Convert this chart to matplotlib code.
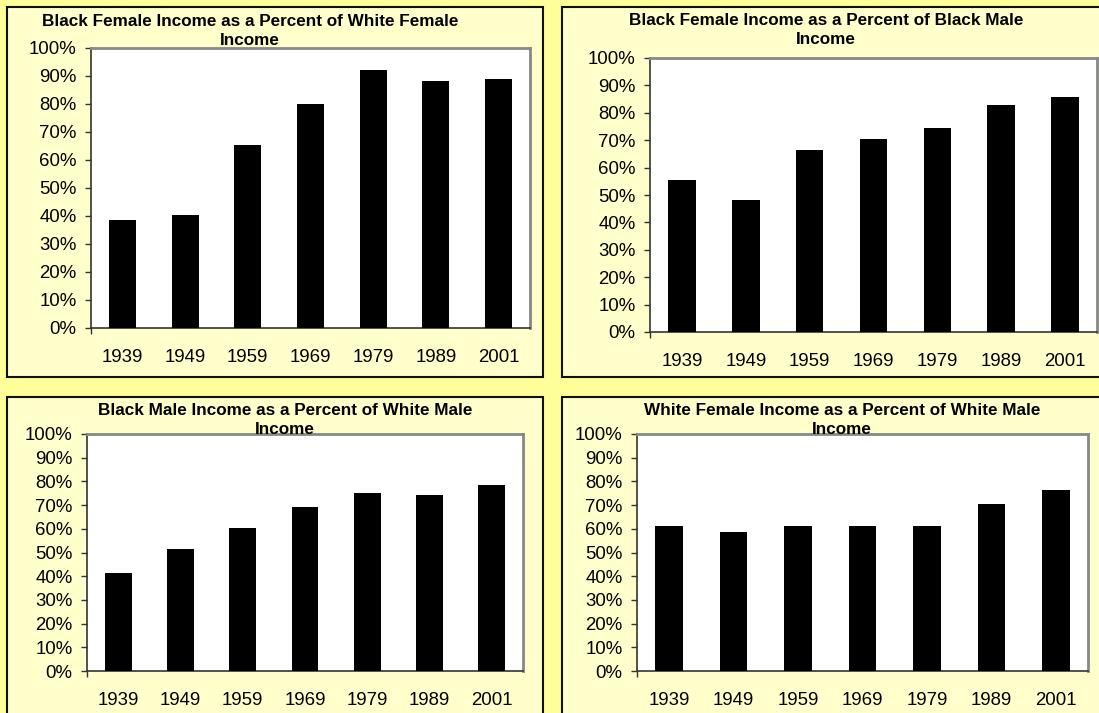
import numpy as np
import matplotlib.pyplot as plt
from matplotlib.patches import Rectangle
from matplotlib.ticker import FixedLocator

years = ['1939', '1949', '1959', '1969', '1979', '1989', '2001']
bf_of_wf = [38.5, 40.2, 65.2, 80.1, 92.3, 88.1, 88.8]
bf_of_bm = [55.3, 48.2, 66.3, 70.3, 74.4, 82.8, 85.6]
bm_of_wm = [41.4, 51.3, 60.3, 69.4, 74.9, 74.2, 78.4]
wf_of_wm = [61.2, 58.5, 61.2, 61.0, 61.0, 70.3, 76.2]

titles = ['Black Female Income as a Percent of White Female\nIncome',
          'Black Female Income as a Percent of Black Male\nIncome',
          'Black Male Income as a Percent of White Male\nIncome',
          'White Female Income as a Percent of White Male\nIncome']
series = [bf_of_wf, bf_of_bm, bm_of_wm, wf_of_wm]

W, H = 1099, 713
plt.rcParams['font.family'] = ['Liberation Sans', 'DejaVu Sans']

fig = plt.figure(figsize=(W / 100, H / 100), dpi=100)
fig.patch.set_facecolor('#FFFF99')

# layout in pixels: frame (l, t, r, b), plot (l, t, r, b), title centre (x, y)
frames = [(7, 7, 543, 377), (562, 7, 1110, 377), (7, 397, 543, 730), (562, 397, 1110, 730)]
plots = [(91, 48, 530, 328), (650, 58, 1097, 332), (87, 434, 523, 671), (637, 434, 1088, 671)]
title_pos = [(250, 31), (826, 30), (285, 420), (842, 420)]


def fbox(l, t, r, b):
    return [l / W, 1 - b / H, (r - l) / W, (b - t) / H]


for frame, plot, tpos, title, vals in zip(frames, plots, title_pos, titles, series):
    l, t, r, b = frame
    fig.patches.append(Rectangle((l / W, 1 - b / H), (r - l) / W, (b - t) / H,
                                 transform=fig.transFigure, facecolor='#FFFFCC',
                                 edgecolor='#111111', linewidth=1.5, zorder=-1))
    ax = fig.add_axes(fbox(*plot))
    ax.set_zorder(1)
    x = np.arange(len(years))
    ax.bar(x, vals, width=0.43, color='black', zorder=3)
    ax.set_xlim(-0.5, len(years) - 0.5)
    ax.set_ylim(0, 100)
    ax.set_yticks(np.arange(0, 101, 10))
    ax.set_yticklabels([f'{v}%' for v in range(0, 101, 10)])
    ax.set_xticks(x)
    ax.set_xticklabels(years)
    ax.xaxis.set_minor_locator(FixedLocator([-0.5]))
    ax.tick_params(axis='x', which='major', length=0, pad=15, labelsize=13.4)
    ax.tick_params(axis='x', which='minor', length=4.5, width=1, color='#333333')
    ax.tick_params(axis='y', length=4.5, width=1, color='#333333', pad=6, labelsize=13.4)
    for side in ['top', 'right']:
        ax.spines[side].set_color('#888888')
        ax.spines[side].set_linewidth(2)
    for side in ['left', 'bottom']:
        ax.spines[side].set_color('#333333')
        ax.spines[side].set_linewidth(1.2)
    ax.set_facecolor('white')
    fig.text(tpos[0] / W, 1 - tpos[1] / H, title, ha='center', va='center',
             fontsize=12.3, fontweight='bold', linespacing=1.3, zorder=2)

plt.savefig('out.png', dpi=100, facecolor=fig.get_facecolor())
